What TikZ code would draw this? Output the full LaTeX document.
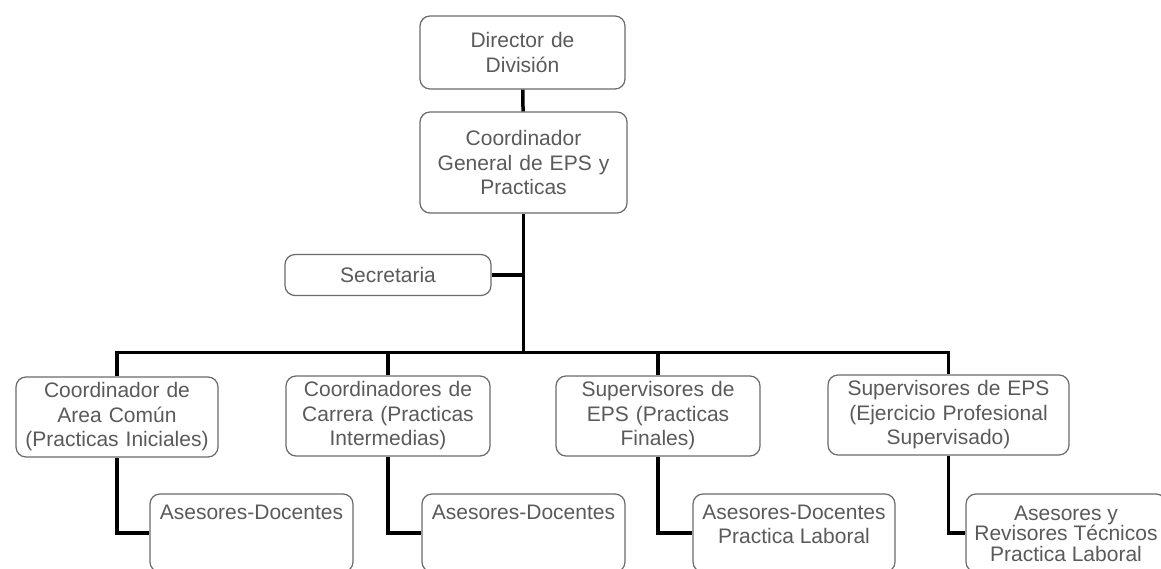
\documentclass[tikz,border=0pt]{standalone}
\usepackage{fontspec}
\setmainfont{Liberation Sans}
\definecolor{boxgray}{HTML}{6A6A6A}
\definecolor{txtgray}{HTML}{5A5A5A}
\begin{document}
\begin{tikzpicture}[x=1pt,y=-1pt,
  box/.style={draw=boxgray, line width=1.2pt, rounded corners=10pt, fill=white,
    inner sep=0pt, align=center, text=txtgray,
    font=\fontsize{21}{24.5}\selectfont, minimum height=80pt},
  lowbox/.style={box, minimum height=78pt, align=left},
  link/.style={line width=3.5pt, black}]
\useasboundingbox (0,0) rectangle (1161,569);
\clip (0,0) rectangle (1161,569);

% top
\node[box, minimum width=205pt, minimum height=73pt, text width=200pt] (dir) at (522.5,52.5) {Director de\\División};
\node[box, minimum width=207pt, minimum height=101pt, text width=200pt] (cg) at (523.5,162.5) {Coordinador\\General de EPS y\\Practicas};
\node[box, minimum width=206pt, minimum height=41pt, text width=200pt] (sec) at (388,275) {Secretaria};

% row
\node[box, minimum width=202pt, text width=200pt] (b1) at (117,417) {Coordinador de\\Area Común\\(Practicas Iniciales)};
\node[box, minimum width=204pt, text width=200pt] (b2) at (388,416) {Coordinadores de\\Carrera (Practicas\\Intermedias)};
\node[box, minimum width=204pt, text width=200pt] (b3) at (658,416) {Supervisores de\\EPS (Practicas\\Finales)};
\node[box, minimum width=241pt, text width=236pt] (b4) at (948.5,415) {Supervisores de EPS\\(Ejercicio Profesional\\Supervisado)};

% bottom
\node[lowbox, minimum width=203pt] (c1) at (251.5,533) {\parbox[c][78pt][t]{195pt}{\centering\rule{0pt}{25pt}Asesores-Docentes}};
\node[lowbox, minimum width=203pt] (c2) at (523.5,533) {\parbox[c][78pt][t]{195pt}{\centering\rule{0pt}{25pt}Asesores-Docentes}};
\node[lowbox, minimum width=202pt] (c3) at (794,533) {\parbox[c][78pt][t]{195pt}{\centering\rule{0pt}{25pt}Asesores-Docentes\\Practica Laboral}};
\node[lowbox, minimum width=200pt] (c4) at (1066,533) {\parbox[c][78pt][t]{195pt}{\centering\rule{0pt}{26pt}Asesores y\\[-4pt]Revisores Técnicos\\[-4pt]Practica Laboral}};

% connectors
\path (cg.south) ++(0,139) coordinate (j);
\draw[link] (dir) -- (cg);
\draw[link] (cg) -- (j);
\draw[link] (sec.east) -- (sec.east -| j);
\draw[link] (b1.north) |- (j) -| (b4.north);
\draw[link] (b2.north) -- (b2.north |- j);
\draw[link] (b3.north) -- (b3.north |- j);
\draw[link] (b1.south) |- (c1.west);
\draw[link] (b2.south) |- (c2.west);
\draw[link] (b3.south) |- (c3.west);
\draw[link] (b4.south) |- (c4.west);
\end{tikzpicture}
\end{document}
